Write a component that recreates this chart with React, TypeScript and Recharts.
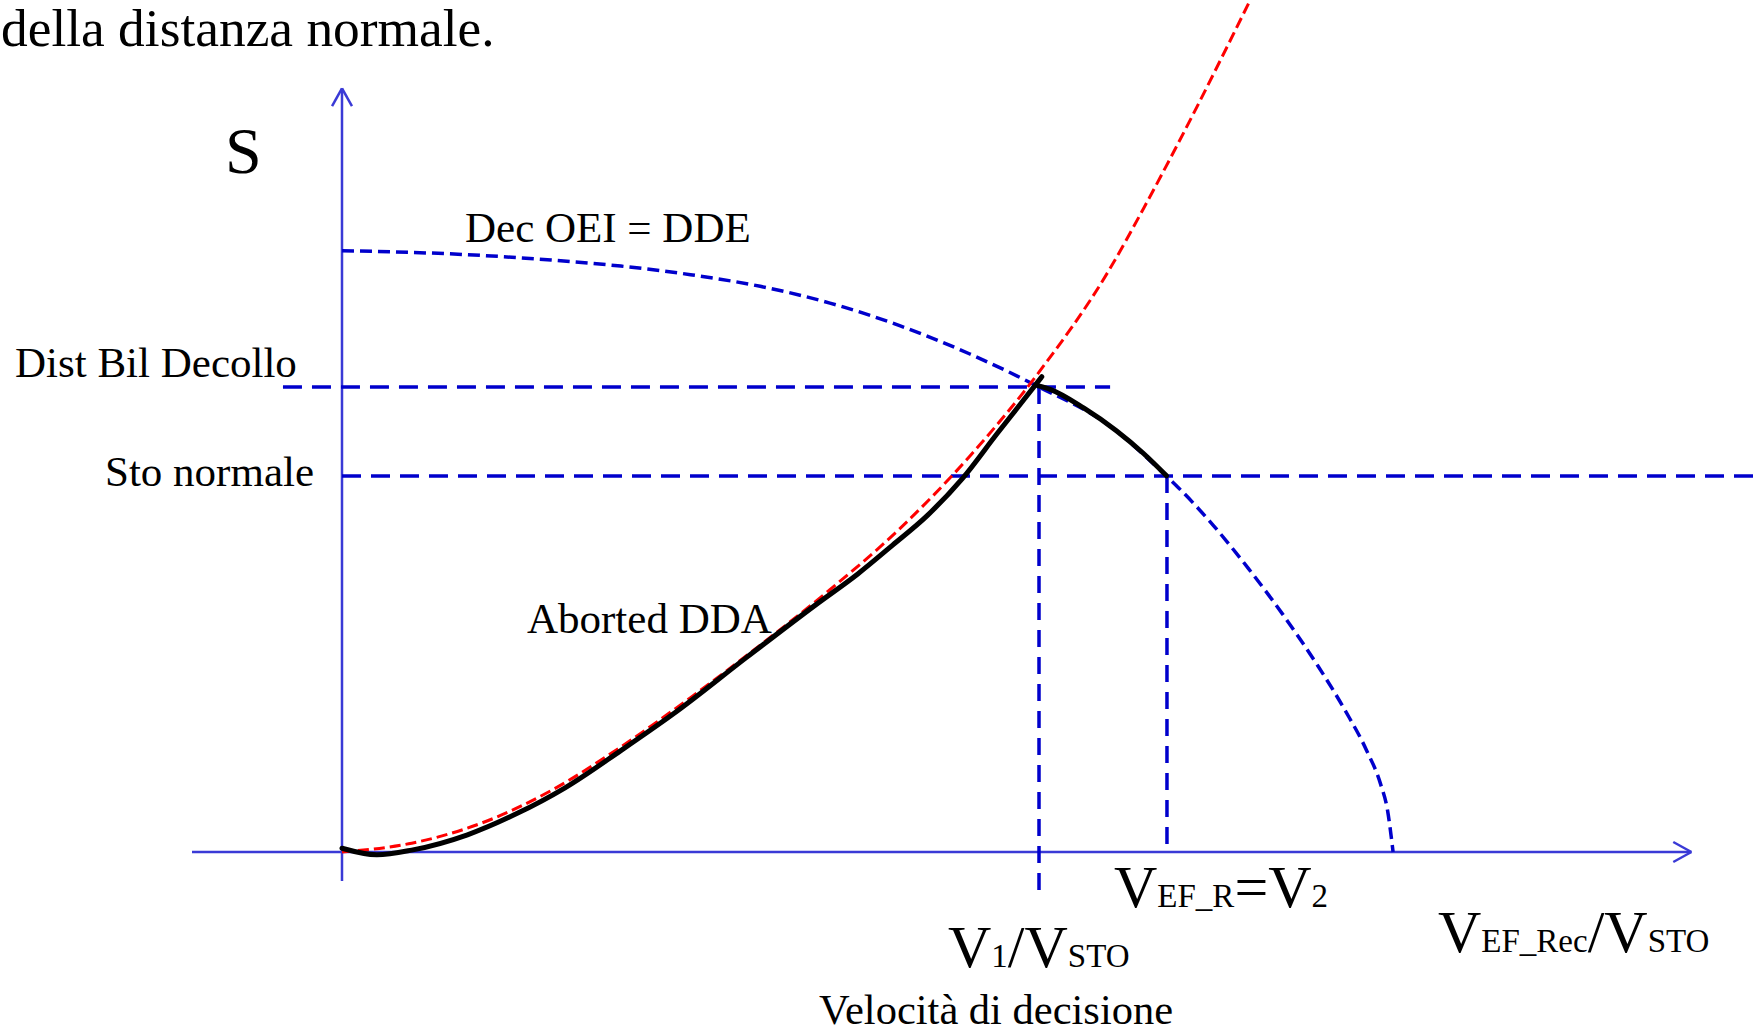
import React from 'react'
import { ComposedChart, Line, XAxis, YAxis, ReferenceLine } from 'recharts'

// x = speed / V1, y = distance / balanced field length
const decOeiDde = [
  { v: 0, s: 1.293 }, { v: 0.1, s: 1.2895 }, { v: 0.2, s: 1.283 }, { v: 0.3, s: 1.273 },
  { v: 0.4, s: 1.26 }, { v: 0.5, s: 1.2415 }, { v: 0.6, s: 1.2165 }, { v: 0.7, s: 1.1805 },
  { v: 0.8, s: 1.132 }, { v: 0.9, s: 1.0715 }, { v: 1.0, s: 1.0 }, { v: 1.1, s: 0.918 },
  { v: 1.183, s: 0.808 }, { v: 1.2, s: 0.7835 }, { v: 1.25, s: 0.7025 }, { v: 1.3, s: 0.6105 },
  { v: 1.35, s: 0.5105 }, { v: 1.4, s: 0.4005 }, { v: 1.44, s: 0.3025 }, { v: 1.47, s: 0.2185 },
  { v: 1.49, s: 0.1465 }, { v: 1.5, s: 0.09 }, { v: 1.508, s: 0.0 },
]

const goOei = [
  { v: 0, s: 0 }, { v: 0.1, s: 0.019 }, { v: 0.2, s: 0.062 }, { v: 0.3, s: 0.132 },
  { v: 0.4, s: 0.226 }, { v: 0.5, s: 0.332 }, { v: 0.6, s: 0.445 }, { v: 0.7, s: 0.564 },
  { v: 0.8, s: 0.695 }, { v: 0.9, s: 0.85 }, { v: 1.0, s: 1.032 }, { v: 1.1, s: 1.25 },
  { v: 1.15, s: 1.384 }, { v: 1.2, s: 1.525 }, { v: 1.303, s: 1.832 },
]

const abortedUp = [
  { v: 0, s: 0.008 }, { v: 0.05, s: -0.006 }, { v: 0.1, s: 0.004 }, { v: 0.18, s: 0.037 },
  { v: 0.25, s: 0.082 }, { v: 0.32, s: 0.138 }, { v: 0.4, s: 0.218 }, { v: 0.48, s: 0.302 },
  { v: 0.58, s: 0.418 }, { v: 0.68, s: 0.532 }, { v: 0.74, s: 0.598 }, { v: 0.79, s: 0.66 },
  { v: 0.84, s: 0.724 }, { v: 0.89, s: 0.803 }, { v: 0.94, s: 0.9 }, { v: 0.97, s: 0.957 },
  { v: 1.004, s: 1.022 },
]

const abortedDown = [
  { v: 0.998, s: 1.003 }, { v: 1.016, s: 0.995 }, { v: 1.064, s: 0.955 },
  { v: 1.111, s: 0.906 }, { v: 1.15, s: 0.857 }, { v: 1.183, s: 0.809 },
]

const V1 = 1.0
const V2 = 1.1836
const DIST_BIL = 1.0
const STO_NORMALE = 0.8086

const X_DOMAIN = [-0.490674, 2.02439]
const Y_DOMAIN = [-0.376344, 1.832258]

const W = 1753
const H = 1027
const AXIS = '#3a3ad6'
const DASH = '#0000cc'
const SERIF = '"Liberation Serif", "Times New Roman", serif'

export default function App() {
  return (
    <div style={{ position: 'absolute', left: 0, top: 0, width: W, height: H, background: '#fff' }}>
      <ComposedChart width={W} height={H} margin={{ top: 0, right: 0, bottom: 0, left: 0 }}>
        <XAxis type="number" dataKey="v" domain={X_DOMAIN} allowDataOverflow hide />
        <YAxis type="number" domain={Y_DOMAIN} allowDataOverflow hide />

        {/* axes with open arrow heads */}
        <ReferenceLine segment={[{ x: -0.2152, y: 0 }, { x: 1.936, y: 0 }]} stroke={AXIS} strokeWidth={2.5} ifOverflow="visible" />
        <ReferenceLine segment={[{ x: 1.91, y: 0.0215 }, { x: 1.936, y: 0 }]} stroke={AXIS} strokeWidth={2.5} ifOverflow="visible" />
        <ReferenceLine segment={[{ x: 1.91, y: -0.0215 }, { x: 1.936, y: 0 }]} stroke={AXIS} strokeWidth={2.5} ifOverflow="visible" />
        <ReferenceLine segment={[{ x: 0, y: -0.0624 }, { x: 0, y: 1.642 }]} stroke={AXIS} strokeWidth={2.5} ifOverflow="visible" />
        <ReferenceLine segment={[{ x: -0.0143, y: 1.604 }, { x: 0, y: 1.642 }]} stroke={AXIS} strokeWidth={2.5} ifOverflow="visible" />
        <ReferenceLine segment={[{ x: 0.0143, y: 1.604 }, { x: 0, y: 1.642 }]} stroke={AXIS} strokeWidth={2.5} ifOverflow="visible" />

        {/* guide lines */}
        <ReferenceLine segment={[{ x: -0.0847, y: DIST_BIL }, { x: 1.102, y: DIST_BIL }]} stroke={DASH} strokeWidth={3.5} strokeDasharray="19 10" ifOverflow="visible" />
        <ReferenceLine segment={[{ x: 0, y: STO_NORMALE }, { x: 2.03, y: STO_NORMALE }]} stroke={DASH} strokeWidth={3.5} strokeDasharray="19 10" ifOverflow="visible" />
        <ReferenceLine segment={[{ x: V1, y: DIST_BIL }, { x: V1, y: -0.094 }]} stroke={DASH} strokeWidth={3.5} strokeDasharray="17 10" ifOverflow="visible" />
        <ReferenceLine segment={[{ x: V2, y: STO_NORMALE }, { x: V2, y: 0 }]} stroke={DASH} strokeWidth={3.5} strokeDasharray="17 10" ifOverflow="visible" />

        <Line data={decOeiDde} dataKey="s" type="monotone" stroke={DASH} strokeWidth={3.5} strokeDasharray="12 6" dot={false} activeDot={false} isAnimationActive={false} />
        <Line data={goOei} dataKey="s" type="monotone" stroke="#ff0000" strokeWidth={3} strokeDasharray="11 5" dot={false} activeDot={false} isAnimationActive={false} />
        <Line data={abortedUp} dataKey="s" type="monotone" stroke="#000" strokeWidth={5} strokeLinecap="round" dot={false} activeDot={false} isAnimationActive={false} />
        <Line data={abortedDown} dataKey="s" type="monotone" stroke="#000" strokeWidth={5} strokeLinecap="round" dot={false} activeDot={false} isAnimationActive={false} />
      </ComposedChart>

      <svg width={W} height={H} style={{ position: 'absolute', left: 0, top: 0, pointerEvents: 'none' }} fontFamily={SERIF} fill="#000">
        <text x={1} y={46} fontSize={53.4}>della distanza normale.</text>
        <text x={225} y={173} fontSize={66}>S</text>
        <text x={465} y={242} fontSize={43}>Dec OEI = DDE</text>
        <text x={15} y={377} fontSize={43}>Dist Bil Decollo</text>
        <text x={105} y={486} fontSize={43}>Sto normale</text>
        <text x={527} y={633} fontSize={43}>Aborted DDA</text>
        <text x={948} y={967} fontSize={60}>
          V<tspan fontSize={33}>1</tspan>/V<tspan fontSize={33}>STO</tspan>
        </text>
        <text x={819} y={1024} fontSize={42.5}>Velocità di decisione</text>
        <text x={1114} y={907} fontSize={60}>
          V<tspan fontSize={33}>EF_R</tspan>=V<tspan fontSize={33}>2</tspan>
        </text>
        <text x={1438} y={952} fontSize={60}>
          V<tspan fontSize={33}>EF_Rec</tspan>/V<tspan fontSize={33}>STO</tspan>
        </text>
      </svg>
    </div>
  )
}
